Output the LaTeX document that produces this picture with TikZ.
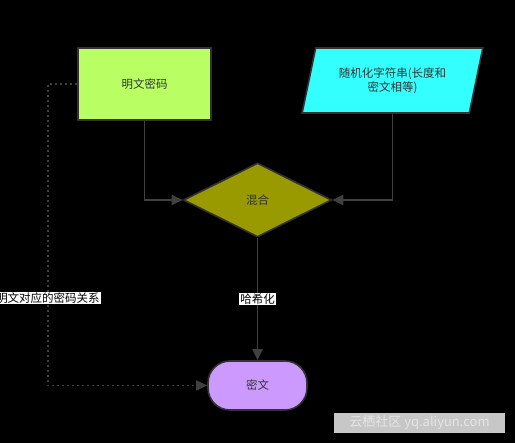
\documentclass[tikz,border=0pt]{standalone}
\usepackage{fontspec}
\setmainfont{Noto Sans CJK SC}
\usepackage{tikz}
\usetikzlibrary{arrows.meta,positioning,shapes.geometric}
\definecolor{bgc}{RGB}{0,0,0}
\definecolor{edgec}{RGB}{64,64,64}
\definecolor{plainc}{RGB}{185,255,100}
\definecolor{randc}{RGB}{51,255,255}
\definecolor{mixc}{RGB}{153,153,0}
\definecolor{ciphc}{RGB}{204,153,255}
\definecolor{txtc}{RGB}{51,51,51}

\begin{document}
\begin{tikzpicture}[x=1pt,y=-1pt,font=\fontsize{11.5}{14}\selectfont,>={Triangle[length=11pt,width=10pt]}]
\tikzstyle{box}=[draw=txtc,line width=1.6pt,text=txtc,inner sep=0pt]
\tikzstyle{con}=[->,draw=edgec,line width=1.8pt,color=edgec]
\tikzstyle{lbl}=[fill=white,text=black,inner sep=1pt]
\fill[bgc] (0,0) rectangle (515,443);
\useasboundingbox (0,0) rectangle (515,443);
\node[box,fill=plainc,minimum width=133pt,minimum height=72pt] (pw) at (144.5,84) {明文密码};
\node[box,fill=randc,trapezium,trapezium left angle=70,trapezium right angle=110,trapezium stretches=true,minimum width=181pt,minimum height=65pt,align=center] (rs) at (392.5,80.5) {随机化字符串(长度和\\密文相等)};
\node[box,fill=mixc,diamond,minimum width=148pt,minimum height=74pt] (mix) at (257.5,200) {混合};
\node[box,fill=ciphc,rounded corners=22pt,minimum width=99pt,minimum height=49pt] (ct) at (257.5,385.5) {密文};
\draw[con] (pw.south) |- (mix.west);
\draw[con] (rs.south) |- (mix.east);
\draw[con] (mix.south) -- node[lbl] (hash) {哈希化} (ct.north);
% dotted side link
\coordinate (c1) at (48,84);
\coordinate (c2) at (48,385.5);
\draw[con,dash pattern=on 2pt off 3pt] (pw.west) -- (c1) -- node[lbl,pos=0.71] (rel) {明文对应的密码关系} (c2) -- (ct.west);
% watermark
\node[fill=black!22,text=black!10,minimum width=171pt,minimum height=20pt,inner sep=0pt,font=\fontsize{13}{15}\selectfont] (wm) at (419.5,423) {云栖社区 yq.aliyun.com};
\end{tikzpicture}
\end{document}
